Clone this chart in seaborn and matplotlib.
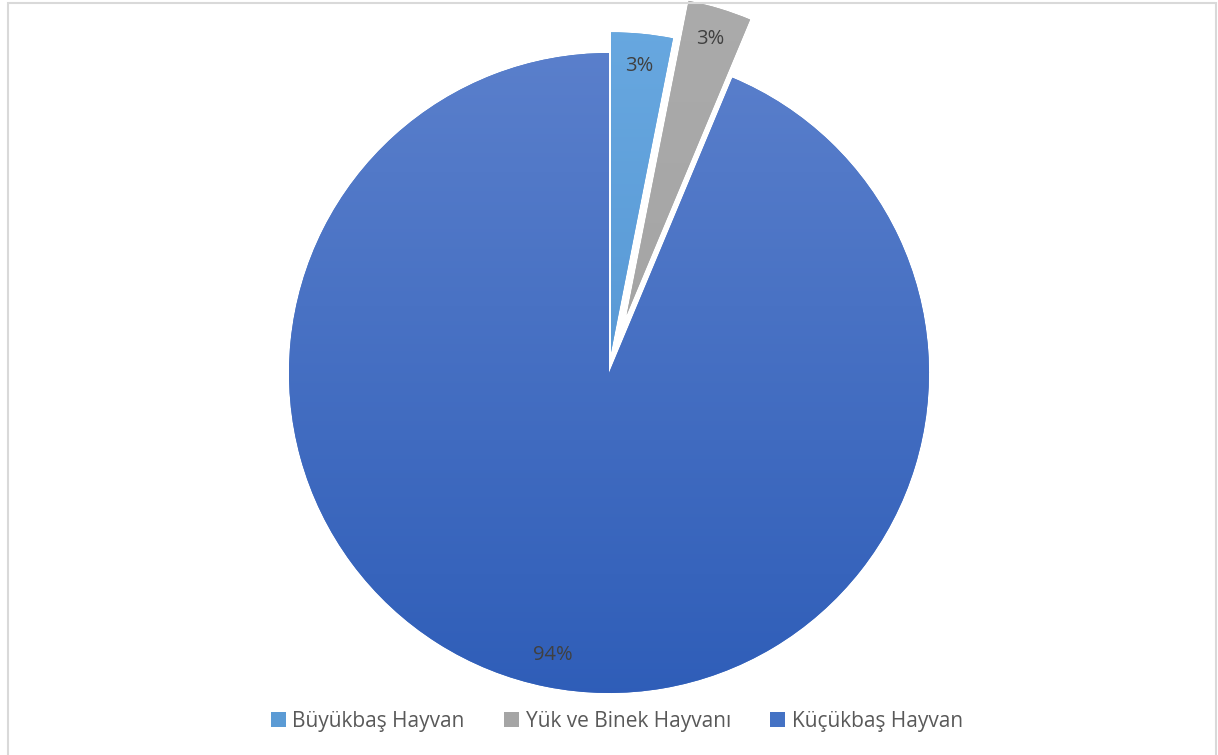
import numpy as np
import matplotlib
matplotlib.use("Agg")
import matplotlib.pyplot as plt
import seaborn as sns
from matplotlib.colors import LinearSegmentedColormap
from matplotlib.patches import Rectangle

# data
labels = ["Büyükbaş Hayvan", "Yük ve Binek Hayvanı", "Küçükbaş Hayvan"]
shares = [3.1, 3.2, 93.7]
explode = [0.065, 0.19, 0.0]
colors = ["#5B9BD5", "#A5A5A5", "#4472C4"]
grad_top = ["#68A8E0", "#ABABAB", "#5B80CC"]
grad_bottom = ["#4A8CCD", "#A0A0A0", "#2E5DB8"]

sns.set_style("white")
plt.rcParams["font.family"] = ["Open Sans", "DejaVu Sans"]

W, H = 1218, 755
R = 320.0
cx, cy = 609, 373

fig = plt.figure(figsize=(W / 100, H / 100), dpi=100)
ax = fig.add_axes([0, 0, 1, 1])

wedges, texts, autotexts = ax.pie(
    shares,
    colors=colors,
    explode=explode,
    startangle=90,
    counterclock=False,
    autopct="%1.0f%%",
    pctdistance=0.9,
    radius=1.0,
    wedgeprops=dict(linewidth=0),
    textprops=dict(color="#404040", fontsize=14.5),
)

# vertical gradient fill like the spreadsheet chart
for w, top, bot in zip(wedges, grad_top, grad_bottom):
    cmap = LinearSegmentedColormap.from_list("g", [top, bot])
    grad = np.linspace(0, 1, 256).reshape(-1, 1)
    x0, y0 = w.center
    im = ax.imshow(grad, cmap=cmap, aspect="auto",
                   extent=[x0 - 1.05, x0 + 1.05, y0 - 1.05, y0 + 1.05],
                   origin="upper", zorder=w.get_zorder() + 0.1)
    im.set_clip_path(w)

for t in autotexts:
    t.set_zorder(5)

ax.set_aspect("auto")
ax.set_xlim(-cx / R, (W - cx) / R)
ax.set_ylim(-(H - cy) / R, cy / R)
ax.axis("off")

leg = ax.legend(wedges, labels, loc="center", bbox_to_anchor=(617 / W, 1 - 721 / H),
                bbox_transform=fig.transFigure, ncol=3, frameon=False,
                fontsize=15, handlelength=0.72, handleheight=0.72,
                handletextpad=0.3, columnspacing=1.9, labelcolor="#595959")

fig.patches.append(Rectangle((8 / W, -0.01), (1216 - 8) / W, 1 - 3 / H + 0.01,
                             transform=fig.transFigure, fill=False,
                             edgecolor="#D9D9D9", linewidth=1.5))

fig.savefig("out.png", dpi=100, facecolor="white")
